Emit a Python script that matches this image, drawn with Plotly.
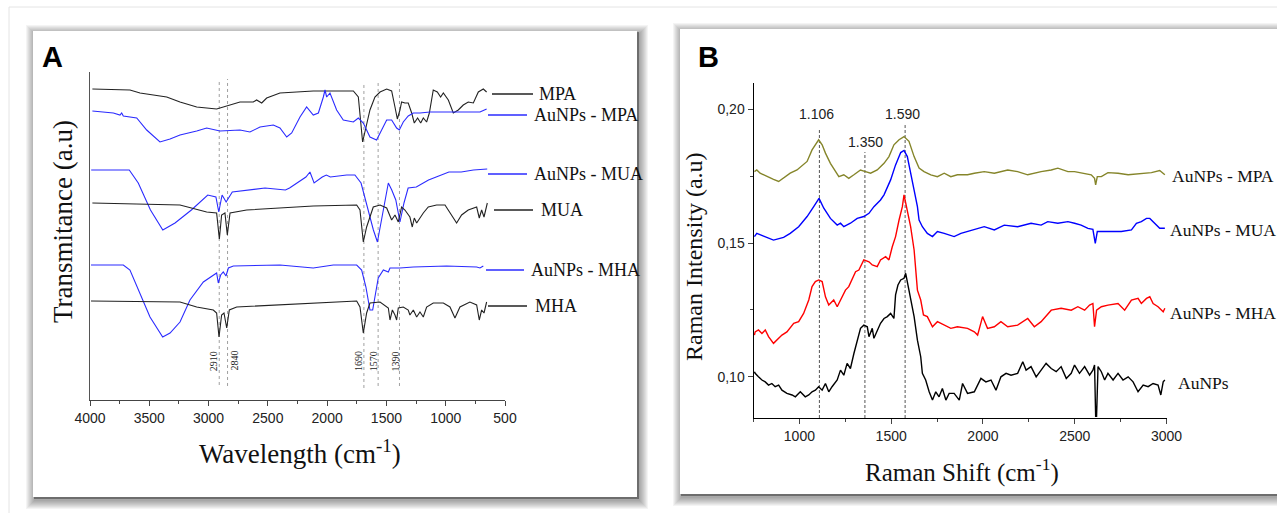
import plotly.graph_objects as go

W, H = 1277, 513

# ---------------- panel A : FTIR (wavenumber cm-1, transmittance a.u.) ----------------
mpa_wn = [3980, 3663, 3578, 3353, 3241, 3100, 2932, 2876, 2735, 2623, 2595, 2552, 2510, 2398, 2117,
          1779, 1737, 1701, 1673, 1639, 1597, 1554, 1498, 1456, 1428, 1408, 1386, 1372, 1344, 1316,
          1287, 1265, 1237, 1211, 1189, 1161, 1138, 1105, 1071, 1043, 1020, 978, 936, 894, 852, 810,
          767, 725, 683, 655]
mpa_t = [314, 313, 310, 306, 301, 296, 294, 296, 301, 301, 303, 300, 305, 310, 312,
         312, 306, 261, 276, 293, 306, 311, 314, 312, 296, 284, 293, 301, 300, 300,
         290, 280, 285, 280, 285, 281, 290, 313, 311, 306, 310, 303, 290, 293, 298, 301,
         300, 311, 314, 311]

au_mpa_wn = [3980, 3803, 3747, 3733, 3719, 3606, 3522, 3410, 3325, 3241, 3100, 3016, 2904, 2735, 2651,
             2566, 2454, 2398, 2341, 2299, 2229, 2173, 2117, 2074, 2032, 2018, 2004, 1976, 1920, 1864,
             1779, 1737, 1695, 1639, 1583, 1540, 1498, 1456, 1414, 1391, 1358, 1316, 1273, 1217, 1133,
             992, 852, 711, 655]
au_mpa_t = [292, 290, 288, 290, 287, 285, 273, 261, 264, 268, 272, 275, 272, 273, 271,
            276, 278, 275, 266, 270, 286, 296, 288, 290, 306, 313, 306, 310, 293, 283,
            281, 285, 280, 266, 263, 273, 283, 283, 275, 273, 281, 287, 290, 290, 291,
            291, 291, 291, 294]

au_mua_wn = [3990, 3669, 3593, 3490, 3386, 3283, 3145, 3007, 2938, 2914, 2886, 2852, 2800, 2524, 2352,
             2317, 2179, 2145, 2110, 2041, 2007, 1973, 1835, 1766, 1714, 1662, 1610, 1576, 1541, 1484,
             1455, 1421, 1386, 1352, 1317, 1248, 1145, 973, 869, 766, 650]
au_mua_t = [233, 233, 220, 193, 173, 180, 193, 208, 206, 191, 208, 201, 211, 215, 213,
            215, 226, 231, 220, 226, 228, 226, 228, 228, 220, 196, 173, 161, 183, 220,
            213, 203, 181, 200, 215, 216, 223, 231, 231, 233, 234]

mua_wn = [3980, 3241, 3016, 2932, 2909, 2890, 2862, 2842, 2819, 2679, 2117, 1751, 1723, 1695, 1667,
          1611, 1554, 1498, 1456, 1428, 1400, 1372, 1344, 1302, 1282, 1265, 1245, 1217, 1189, 1147,
          1077, 1006, 964, 908, 866, 810, 739, 717, 697, 677, 649]
mua_t = [200, 198, 191, 190, 164, 188, 190, 168, 190, 193, 197, 198, 193, 161, 176,
         196, 198, 195, 183, 188, 181, 196, 193, 186, 176, 185, 180, 185, 190, 196,
         198, 198, 190, 180, 188, 193, 196, 185, 193, 186, 200]

au_mha_wn = [3992, 3719, 3663, 3578, 3494, 3387, 3325, 3241, 3157, 3044, 2960, 2932, 2918, 2898, 2876,
             2853, 2833, 2791, 2398, 2117, 1948, 1751, 1709, 1673, 1639, 1616, 1597, 1569, 1526, 1484,
             1470, 1386, 1273, 992, 739, 711, 683]
au_mha_t = [138, 138, 133, 110, 86, 66, 70, 81, 103, 121, 128, 130, 120, 128, 131,
            127, 135, 137, 138, 135, 138, 138, 133, 116, 93, 93, 106, 125, 133, 131,
            135, 135, 136, 137, 136, 135, 137]

mha_wn = [3992, 3241, 3100, 2960, 2932, 2912, 2890, 2870, 2847, 2825, 2763, 2398, 2117, 1751, 1723,
          1695, 1667, 1639, 1554, 1484, 1470, 1450, 1428, 1414, 1400, 1358, 1316, 1302, 1273, 1245,
          1217, 1189, 1161, 1105, 1020, 964, 922, 880, 796, 739, 717, 697, 677, 655]
mha_t = [102, 101, 96, 93, 90, 66, 88, 90, 75, 93, 96, 98, 100, 102, 96,
         70, 90, 100, 101, 95, 83, 93, 88, 83, 95, 96, 93, 88, 93, 86,
         91, 86, 96, 100, 100, 96, 85, 96, 101, 98, 83, 93, 90, 101]

ir_bands = [2910, 2840, 1690, 1570, 1390]
ir_band_top = [324, 324, 319, 320, 321]
ir_band_bottom = [18, 17, 15, 17, 17]
ir_band_shift = [-6, 6, -6, -5, -4]

# ---------------- panel B : Raman (shift cm-1, intensity a.u.) ----------------
r_mpa_x = [755, 768, 786, 823, 859, 887, 914, 950, 987, 1023, 1042, 1069, 1087, 1105, 1124, 1142, 1169,
           1196, 1215, 1242, 1269, 1297, 1333, 1360, 1388, 1424, 1461, 1488, 1515, 1543, 1570, 1597,
           1625, 1652, 1679, 1716, 1752, 1789, 1825, 1861, 1916, 1953, 2007, 2062, 2135, 2189, 2244,
           2317, 2372, 2408, 2463, 2499, 2554, 2590, 2608, 2614, 2623, 2645, 2681, 2736, 2791, 2863,
           2918, 2963, 2991]
r_mpa_y = [0.1767, 0.1773, 0.1761, 0.1748, 0.1738, 0.1730, 0.1742, 0.1761, 0.1773, 0.1792, 0.1805,
           0.1848, 0.1867, 0.1886, 0.1867, 0.1836, 0.1798, 0.1767, 0.1748, 0.1755, 0.1742, 0.1755,
           0.1773, 0.1767, 0.1761, 0.1773, 0.1798, 0.1823, 0.1867, 0.1886, 0.1898, 0.1880, 0.1823,
           0.1780, 0.1767, 0.1755, 0.1748, 0.1761, 0.1748, 0.1755, 0.1755, 0.1761, 0.1767, 0.1761,
           0.1773, 0.1767, 0.1755, 0.1767, 0.1773, 0.1780, 0.1767, 0.1767, 0.1761, 0.1755, 0.1742,
           0.1717, 0.1748, 0.1748, 0.1763, 0.1761, 0.1755, 0.1761, 0.1763, 0.1771, 0.1755]

r_mua_x = [755, 768, 805, 859, 914, 950, 996, 1042, 1078, 1107, 1133, 1169, 1206, 1224, 1242, 1278,
           1315, 1351, 1379, 1406, 1442, 1461, 1497, 1524, 1552, 1570, 1588, 1606, 1625, 1643, 1652,
           1670, 1697, 1725, 1752, 1789, 1843, 1880, 1916, 1953, 2007, 2062, 2116, 2189, 2262, 2317,
           2353, 2408, 2463, 2499, 2535, 2572, 2599, 2612, 2623, 2681, 2754, 2809, 2836, 2863, 2891,
           2909, 2936, 2963, 2991]
r_mua_y = [0.1524, 0.1536, 0.1526, 0.1511, 0.1521, 0.1536, 0.1561, 0.1599, 0.1636, 0.1667, 0.1630,
           0.1592, 0.1567, 0.1574, 0.1561, 0.1574, 0.1592, 0.1599, 0.1611, 0.1636, 0.1661, 0.1680,
           0.1736, 0.1792, 0.1838, 0.1846, 0.1823, 0.1767, 0.1698, 0.1636, 0.1586, 0.1561, 0.1536,
           0.1524, 0.1543, 0.1536, 0.1524, 0.1536, 0.1543, 0.1549, 0.1561, 0.1549, 0.1567, 0.1561,
           0.1574, 0.1567, 0.1580, 0.1574, 0.1580, 0.1574, 0.1567, 0.1555, 0.1551, 0.1499, 0.1543,
           0.1543, 0.1543, 0.1549, 0.1574, 0.1580, 0.1592, 0.1592, 0.1574, 0.1555, 0.1555]

r_mha_x = [755, 759, 777, 796, 814, 832, 859, 878, 905, 932, 969, 996, 1023, 1051, 1069, 1087, 1105,
           1124, 1142, 1160, 1187, 1206, 1224, 1251, 1269, 1287, 1306, 1324, 1351, 1379, 1397, 1424,
           1442, 1470, 1488, 1506, 1524, 1543, 1561, 1570, 1588, 1606, 1625, 1643, 1661, 1676, 1697,
           1725, 1752, 1789, 1825, 1861, 1916, 1953, 1971, 1998, 2025, 2062, 2098, 2135, 2189, 2244,
           2280, 2317, 2372, 2426, 2481, 2517, 2554, 2581, 2599, 2608, 2619, 2645, 2681, 2736, 2772,
           2809, 2845, 2863, 2891, 2909, 2927, 2954, 2982, 2991]
r_mha_y = [0.1156, 0.1168, 0.1175, 0.1162, 0.1175, 0.1150, 0.1125, 0.1137, 0.1156, 0.1168, 0.1200,
           0.1206, 0.1237, 0.1287, 0.1337, 0.1356, 0.1362, 0.1356, 0.1299, 0.1268, 0.1287, 0.1262,
           0.1287, 0.1324, 0.1337, 0.1362, 0.1393, 0.1399, 0.1437, 0.1430, 0.1418, 0.1412, 0.1437,
           0.1449, 0.1437, 0.1486, 0.1524, 0.1586, 0.1636, 0.1680, 0.1624, 0.1561, 0.1474, 0.1324,
           0.1287, 0.1231, 0.1225, 0.1187, 0.1206, 0.1193, 0.1181, 0.1187, 0.1181, 0.1168, 0.1156,
           0.1225, 0.1181, 0.1187, 0.1206, 0.1187, 0.1193, 0.1218, 0.1187, 0.1206, 0.1249, 0.1256,
           0.1249, 0.1262, 0.1249, 0.1268, 0.1274, 0.1187, 0.1249, 0.1262, 0.1268, 0.1274, 0.1249,
           0.1287, 0.1293, 0.1274, 0.1293, 0.1299, 0.1274, 0.1262, 0.1243, 0.1256]

r_au_x = [755, 759, 777, 796, 814, 832, 850, 868, 887, 905, 932, 960, 978, 1005, 1032, 1051, 1069,
          1087, 1105, 1124, 1142, 1160, 1178, 1206, 1224, 1242, 1260, 1278, 1297, 1315, 1333, 1351,
          1370, 1379, 1388, 1397, 1406, 1424, 1442, 1461, 1479, 1497, 1515, 1524, 1537, 1552, 1570,
          1579, 1588, 1597, 1610, 1625, 1643, 1661, 1670, 1688, 1707, 1725, 1743, 1761, 1779, 1798,
          1816, 1843, 1871, 1889, 1916, 1953, 1989, 2016, 2044, 2071, 2098, 2126, 2153, 2189, 2217,
          2235, 2262, 2290, 2317, 2344, 2372, 2399, 2426, 2454, 2481, 2499, 2526, 2554, 2581, 2599,
          2608, 2614, 2619, 2627, 2645, 2663, 2681, 2709, 2736, 2763, 2791, 2818, 2845, 2873, 2900,
          2927, 2954, 2969, 2982, 2991]
r_au_y = [0.1019, 0.1013, 0.1000, 0.0988, 0.0981, 0.0969, 0.0975, 0.0963, 0.0969, 0.0950, 0.0938,
          0.0932, 0.0925, 0.0944, 0.0925, 0.0932, 0.0944, 0.0950, 0.0963, 0.0950, 0.0975, 0.0944,
          0.0963, 0.0988, 0.1025, 0.1006, 0.1050, 0.1031, 0.1087, 0.1137, 0.1181, 0.1193, 0.1187,
          0.1150, 0.1168, 0.1181, 0.1144, 0.1175, 0.1200, 0.1218, 0.1225, 0.1237, 0.1218, 0.1306,
          0.1343, 0.1362, 0.1368, 0.1387, 0.1356, 0.1324, 0.1287, 0.1225, 0.1137, 0.1075, 0.1013,
          0.0988, 0.0944, 0.0913, 0.0944, 0.0925, 0.0956, 0.0913, 0.0938, 0.0938, 0.0913, 0.0975,
          0.0938, 0.0944, 0.0994, 0.0981, 0.0988, 0.0950, 0.1000, 0.1013, 0.1006, 0.1013, 0.1056,
          0.1025, 0.1038, 0.1000, 0.1025, 0.1050, 0.1031, 0.1019, 0.1038, 0.0994, 0.1013, 0.1044,
          0.1013, 0.1038, 0.1006, 0.1025, 0.1044, 0.0852, 0.0852, 0.1038, 0.1019, 0.0988, 0.1013,
          0.0988, 0.1013, 0.0988, 0.1000, 0.0981, 0.0944, 0.0969, 0.0963, 0.0975, 0.0969, 0.0932,
          0.0981, 0.0988]

raman_bands = ["1.106", "1.350", "1.590"]
raman_band_pos = [1109, 1357, 1576]
raman_band_top = [0.1923, 0.1840, 0.1941]
raman_label_x = [1092, 1362, 1563]
raman_label_y = [0.1982, 0.1876, 0.1982]

SERIF = "Liberation Serif, Times New Roman, serif"
SANS = "Liberation Sans, Arial, sans-serif"
BLUE = "#2b2bff"
DARK = "#222222"


def px(x):
    return min(max(x, 0), W) / W


def py(y):
    return 1 - min(max(y, 0), H) / H


def rect(x0, y0, x1, y1, **kw):
    return dict(type="rect", xref="paper", yref="paper", x0=px(x0), x1=px(x1),
                y0=py(y1), y1=py(y0), layer="below", **kw)


fig = go.Figure()

ir_series = [
    (mpa_wn, mpa_t, DARK), (au_mpa_wn, au_mpa_t, BLUE),
    (au_mua_wn, au_mua_t, BLUE), (mua_wn, mua_t, DARK),
    (au_mha_wn, au_mha_t, BLUE), (mha_wn, mha_t, DARK),
]
for b, top, bot in zip(ir_bands, ir_band_top, ir_band_bottom):
    fig.add_trace(go.Scatter(x=[b, b], y=[bot, top], mode="lines", xaxis="x", yaxis="y",
                             line=dict(color="#888888", width=0.8, dash="dot")))
for xs, ys, c in ir_series:
    fig.add_trace(go.Scatter(x=xs, y=ys, mode="lines", xaxis="x", yaxis="y",
                             line=dict(color=c, width=1.1)))

raman_series = [
    (r_mpa_x, r_mpa_y, "#85852a"), (r_mua_x, r_mua_y, "#0000ff"),
    (r_mha_x, r_mha_y, "#ff0000"), (r_au_x, r_au_y, "#000000"),
]
for b, top in zip(raman_band_pos, raman_band_top):
    fig.add_trace(go.Scatter(x=[b, b], y=[0.0846, top], mode="lines", xaxis="x2", yaxis="y2",
                             line=dict(color="#555555", width=1, dash="3px,2px")))
for xs, ys, c in raman_series:
    fig.add_trace(go.Scatter(x=xs, y=ys, mode="lines", xaxis="x2", yaxis="y2",
                             line=dict(color=c, width=1.4)))

# ---- background, panels, shadows (all kept inside the page) ----
shapes = [
    dict(type="line", xref="paper", yref="paper", x0=px(9), x1=px(W), y0=py(7), y1=py(7),
         line=dict(color="#e4e4e4", width=1), layer="below"),
    dict(type="line", xref="paper", yref="paper", x0=px(9), x1=px(9), y0=py(7), y1=py(H),
         line=dict(color="#e4e4e4", width=1), layer="below"),
]
for (x0, y0, x1, y1) in [(33, 31, 637, 497), (680, 29, W, 494)]:
    for i in range(9, 0, -1):
        shapes.append(rect(x0 - i + 2, y0 - i + 3, x1 + i + 2, y1 + i + 3,
                           fillcolor="rgba(0,0,0,0.045)", line=dict(width=0)))
    shapes.append(rect(x0 + 1, y0 + 1, x1 + 2, y1 + 2, fillcolor="rgba(0,0,0,0.35)", line=dict(width=0)))
    shapes.append(rect(x0, y0, x1, y1, fillcolor="white", line=dict(width=0)))

annotations = []

# panel A right-hand labels
ir_labels = [("MPA", DARK, 492, 533, 94, 537), ("AuNPs - MPA", BLUE, 488, 527, 115, 532),
             ("AuNPs - MUA", BLUE, 488, 527, 174, 532), ("MUA", DARK, 494, 533, 210, 539),
             ("AuNPs - MHA", BLUE, 486, 524, 270, 529), ("MHA", DARK, 488, 527, 306, 533)]
for name, c, lx0, lx1, ly, tx in ir_labels:
    shapes.append(dict(type="line", xref="paper", yref="paper", x0=px(lx0), x1=px(lx1),
                       y0=py(ly), y1=py(ly), line=dict(color=c, width=1.3)))
    annotations.append(dict(text=name, xref="paper", yref="paper", x=px(tx), y=py(ly),
                            xanchor="left", yanchor="middle", showarrow=False,
                            font=dict(family=SERIF, size=18, color="#111")))

for b, s in zip(ir_bands, ir_band_shift):
    annotations.append(dict(text=str(b), x=b, y=42, xref="x", yref="y", xshift=s, textangle=-90,
                            showarrow=False, font=dict(family=SERIF, size=10, color="#222")))

# panel B right-hand labels
for name, ly, tx in [("AuNPs - MPA", 176, 1170), ("AuNPs - MUA", 230, 1168),
                     ("AuNPs - MHA", 313, 1168), ("AuNPs", 383, 1176)]:
    annotations.append(dict(text=name, xref="paper", yref="paper", x=px(tx), y=py(ly),
                            xanchor="left", yanchor="middle", showarrow=False,
                            font=dict(family=SERIF, size=17.5, color="#111")))

for t, lx, ly in zip(raman_bands, raman_label_x, raman_label_y):
    annotations.append(dict(text=t, x=lx, y=ly, xref="x2", yref="y2", showarrow=False,
                            font=dict(family=SANS, size=14, color="#222")))

# titles and panel letters
annotations += [
    dict(text="<b>A</b>", x=px(52), y=py(57), font=dict(family=SANS, size=29, color="black")),
    dict(text="<b>B</b>", x=px(708), y=py(57), font=dict(family=SANS, size=29, color="black")),
    dict(text="Transmitance (a.u)", x=px(63), y=py(222), textangle=-90,
         font=dict(family=SERIF, size=27, color="#111")),
    dict(text="Wavelength (cm<sup>-1</sup>)", x=px(300), y=py(452),
         font=dict(family=SERIF, size=27, color="#111")),
    dict(text="Raman Intensity (a.u)", x=px(694), y=py(257), textangle=-90,
         font=dict(family=SERIF, size=24, color="#111")),
    dict(text="Raman Shift (cm<sup>-1</sup>)", x=px(962), y=py(470),
         font=dict(family=SERIF, size=25, color="#111")),
]
for a in annotations[-6:]:
    a.update(xref="paper", yref="paper", showarrow=False, xanchor="center", yanchor="middle")

fig.update_layout(
    width=W, height=H, margin=dict(l=0, r=0, t=0, b=0, pad=0, autoexpand=False),
    paper_bgcolor="white", plot_bgcolor="rgba(0,0,0,0)", showlegend=False,
    shapes=shapes, annotations=annotations,
    xaxis=dict(domain=[px(90), px(505)], range=[4000, 500], anchor="y", automargin=False,
               showline=True, linecolor="#444", linewidth=1, showgrid=False, zeroline=False,
               ticks="outside", ticklen=5, tickcolor="#444", tickvals=[4000, 3500, 3000, 2500, 2000, 1500, 1000, 500],
               minor=dict(ticks="outside", ticklen=3, dtick=250, tickcolor="#444"),
               tickfont=dict(family=SANS, size=14, color="#222")),
    yaxis=dict(domain=[py(400), py(71.7)], range=[3, 331.3], anchor="x", automargin=False,
               showline=True, linecolor="#555", linewidth=1, showgrid=False, zeroline=False,
               showticklabels=False, ticks=""),
    xaxis2=dict(domain=[px(753.5), px(1166.5)], range=[750, 3000], anchor="y2", automargin=False,
                showline=True, linecolor="black", linewidth=1, showgrid=False, zeroline=False,
                ticks="outside", ticklen=5, tickvals=[1000, 1500, 2000, 2500, 3000],
                minor=dict(ticks="outside", ticklen=3, dtick=250, tick0=750),
                tickfont=dict(family=SANS, size=14, color="#222")),
    yaxis2=dict(domain=[py(418), py(83.3)], range=[0.0846, 0.2097], anchor="x2", automargin=False,
                showline=True, linecolor="black", linewidth=1, showgrid=False, zeroline=False,
                ticks="outside", ticklen=5, tickvals=[0.10, 0.15, 0.20],
                ticktext=["0,10", "0,15", "0,20"],
                minor=dict(ticks="outside", ticklen=3, dtick=0.025, tick0=0.1),
                tickfont=dict(family=SANS, size=14, color="#222")),
)

# the page body has a default margin and may scroll; pin the figure to the window
page_js = ("document.body.style.margin='0px';"
           "document.body.style.overflow='hidden';"
           "document.documentElement.style.overflow='hidden';")
fig.write_html("out.html", config={"displayModeBar": False}, post_script=page_js)
